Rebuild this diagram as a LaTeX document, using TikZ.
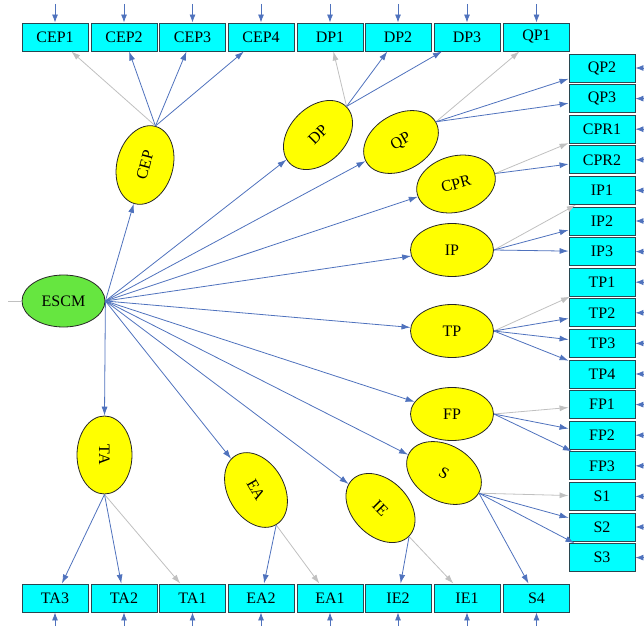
\documentclass[tikz,border=0pt]{standalone}
\usepackage{fontspec}
\setmainfont{Liberation Serif}
\usetikzlibrary{shapes.geometric,arrows.meta}
\definecolor{arrblue}{RGB}{79,114,189}
\definecolor{arrgrey}{RGB}{192,192,192}
\definecolor{boxcyan}{RGB}{0,255,255}
\definecolor{boxedge}{RGB}{40,70,80}
\definecolor{latyellow}{RGB}{255,255,0}
\definecolor{latgreen}{RGB}{102,230,64}
\begin{document}
\begin{tikzpicture}[x=1pt,y=-1pt,
  obs/.style={draw=boxedge, line width=0.9pt, fill=boxcyan, minimum width=66pt, minimum height=28pt, inner sep=0pt, font=\fontsize{16}{18}\selectfont},
  lat/.style={ellipse, draw=black!85, line width=0.8pt, fill=latyellow, minimum width=80pt, minimum height=56pt, inner sep=0pt, font=\fontsize{16}{18}\selectfont},
  load/.style={draw=arrblue, line width=0.8pt, -{Latex[length=9pt,width=6pt]}},
  fixed/.style={draw=arrgrey, line width=0.8pt, -{Latex[length=9pt,width=6pt]}},
  err/.style={draw=arrblue, line width=0.8pt, -{Latex[length=8pt,width=6pt]}}
]
\useasboundingbox (0,0) rectangle (644,626);
% top row
\foreach \n/\t/\x in {cepa/CEP1/55, cepb/CEP2/124, cepc/CEP3/192.5, cepd/CEP4/261, dpa/DP1/330, dpb/DP2/398, dpc/DP3/467, qpa/QP1/536.5}{
  \node[obs] (\n) at (\x,37) {\t};
  \coordinate (e\n) at (\x,4);
  \draw[err] (e\n) -- (\n);
}
% bottom row
\foreach \n/\t/\x in {tac/TA3/55, tab/TA2/124, taa/TA1/192.5, eab/EA2/261, eaa/EA1/330, ieb/IE2/398, iea/IE1/467, sd/S4/536.5}{
  \node[obs] (\n) at (\x,598) {\t};
  \coordinate (e\n) at (\x,626);
  \draw[err] (e\n) -- (\n);
}
% right column
\foreach \n/\t/\k in {qpb/QP2/0, qpc/QP3/1, cpra/CPR1/2, cprb/CPR2/3, ipa/IP1/4, ipb/IP2/5, ipc/IP3/6, tpa/TP1/7, tpb/TP2/8, tpc/TP3/9, tpd/TP4/10, fpa/FP1/11, fpb/FP2/12, fpc/FP3/13, sa/S1/14, sb/S2/15, sc/S3/16}{
  \node[obs] (\n) at (602,68+30.6*\k) {\t};
  \coordinate (e\n) at (644,68+30.6*\k);
  \draw[err] (e\n) -- (\n);
}
% latent variables
\node[lat, fill=latgreen, minimum width=83pt, minimum height=52pt] (escm) at (63.5,301) {ESCM};
\node[lat, rotate=75] (cep) at (145,165) {CEP};
\node[lat, rotate=45] (dp) at (318,135) {DP};
\node[lat, rotate=30] (qp) at (401,142) {QP};
\node[lat, rotate=15] (cpr) at (456,184) {CPR};
\node[lat, minimum width=83pt, minimum height=53pt] (ip) at (452,250) {IP};
\node[lat, minimum width=83pt, minimum height=53pt] (tp) at (452,331) {TP};
\node[lat, minimum width=83pt, minimum height=53pt] (fp) at (452,414) {FP};
\node[lat, rotate=-30] (s) at (444,473) {S};
\node[lat, rotate=-45] (ie) at (380.5,508) {IE};
\node[lat, rotate=-60] (ea) at (256,490) {EA};
\node[lat, rotate=-90, minimum width=78pt, minimum height=55pt] (ta) at (104.5,455) {TA};
% error term of ESCM
\coordinate (eescm) at (8,301);
\draw[draw=arrgrey, line width=0.8pt] (eescm) -- (escm.west);
% structural paths
\foreach \t in {cep,dp,qp,cpr,ip,tp,fp,s,ie,ea}{
  \draw[load] (escm.east) -- (\t);
}
\draw[load] (escm.east) -- (ta.west);
% loadings
\draw[fixed] (cep.east) -- (cepa);
\draw[load] (cep.east) -- (cepb);
\draw[load] (cep.east) -- (cepc);
\draw[load] (cep.east) -- (cepd);
\draw[fixed] (dp.east) -- (dpa);
\draw[load] (dp.east) -- (dpb);
\draw[load] (dp.east) -- (dpc);
\draw[fixed] (qp.east) -- (qpa);
\draw[load] (qp.east) -- (qpb);
\draw[load] (qp.east) -- (qpc);
\draw[fixed] (cpr.east) -- (cpra);
\draw[load] (cpr.east) -- (cprb);
\draw[fixed] (ip.east) -- (ipa);
\draw[load] (ip.east) -- (ipb);
\draw[load] (ip.east) -- (ipc);
\draw[fixed] (tp.east) -- (tpa);
\draw[load] (tp.east) -- (tpb);
\draw[load] (tp.east) -- (tpc);
\draw[load] (tp.east) -- (tpd);
\draw[fixed] (fp.east) -- (fpa);
\draw[load] (fp.east) -- (fpb);
\draw[load] (fp.east) -- (fpc);
\draw[fixed] (s.east) -- (sa);
\draw[load] (s.east) -- (sb);
\draw[load] (s.east) -- (sc);
\draw[load] (s.east) -- (sd);
\draw[fixed] (ta.east) -- (taa);
\draw[load] (ta.east) -- (tab);
\draw[load] (ta.east) -- (tac);
\draw[fixed] (ea.east) -- (eaa);
\draw[load] (ea.east) -- (eab);
\draw[fixed] (ie.east) -- (iea);
\draw[load] (ie.east) -- (ieb);
\end{tikzpicture}
\end{document}
